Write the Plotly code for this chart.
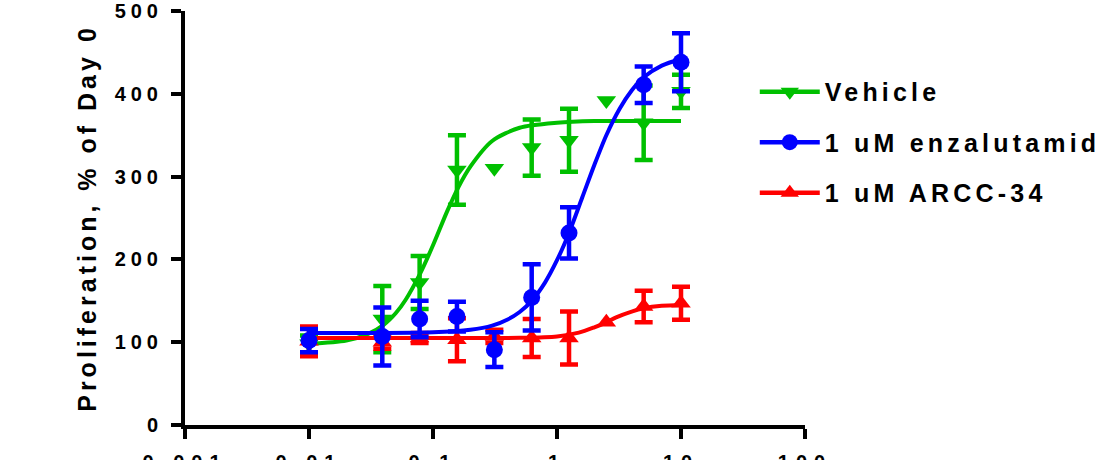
import plotly.graph_objects as go

# ---------------- data ----------------
conc = [0.01, 0.039, 0.078, 0.156, 0.3125, 0.625, 1.25, 2.5, 5, 10]

vehicle_y = [98, 128, 172, 308, 310, 335, 344, 392, 365, 403]
vehicle_err = [10, 40, 32, 42, None, 34, 38, None, 45, 20]

enza_x = [0.01, 0.039, 0.078, 0.156, 0.3125, 0.625, 1.25, 5, 10]
enza_y = [102, 107, 128, 131, 91, 154, 232, 411, 438]
enza_err = [14, 35, 22, 18, 21, 40, 31, 22, 35]

arcc_y = [101, 100, 105, 103, 107, 105, 105, 124, 143, 147]
arcc_err = [18, 8, 6, 26, 8, 23, 32, None, 19, 20]

# fitted curves
veh_fit_x = [0.01, 0.02, 0.03, 0.04, 0.05, 0.06, 0.08, 0.1, 0.13, 0.16, 0.2, 0.3, 0.5, 1, 2, 5, 10]
veh_fit_y = [98, 102, 110, 121, 135, 151, 185, 217, 258, 287, 312, 343, 359, 365, 367, 367, 367]

enza_fit_x = [0.01, 0.1, 0.2, 0.3, 0.4, 0.5, 0.625, 0.8, 1.0, 1.25, 1.6, 2, 2.5, 3.2, 4, 5, 7, 10]
enza_fit_y = [111, 112, 115, 120, 127.5, 136.5, 150, 172, 199, 232, 275, 314, 350, 382, 404, 420, 434, 442]

arcc_fit_x = [0.01, 0.1, 0.5, 1.0, 1.5, 2, 2.5, 3, 4, 5, 7, 10]
arcc_fit_y = [105, 105, 105.3, 107, 111.5, 118, 124, 130, 137, 141, 144, 145]

x_ticks = [0.001, 0.01, 0.1, 1, 10, 100]
x_ticklabels = ["0.001", "0.01", "0.1", "1", "10", "100"]
y_ticks = [0, 100, 200, 300, 400, 500]
y_ticklabels = ["0", "100", "200", "300", "400", "500"]

names = ["Vehicle", "1 uM enzalutamide", "1 uM ARCC-34"]
GREEN, BLUE, RED = "#00c000", "#0000ff", "#ff0000"

FONT = "Liberation Sans, Arial, sans-serif"
MSIZE = 17


def sp(t, px):
    return f'<span style="letter-spacing:{px}px">{t}</span>'


fig = go.Figure()


def add_series(name, color, symbol, fx, fy, px, py, perr, rank):
    fig.add_trace(go.Scatter(
        x=fx, y=fy, mode="lines",
        line=dict(color=color, width=4, shape="spline", smoothing=0.8),
        showlegend=False, hoverinfo="skip"))
    # points with error bars
    ex = [x for x, e in zip(px, perr) if e is not None]
    ey = [y for y, e in zip(py, perr) if e is not None]
    ee = [e for e in perr if e is not None]
    fig.add_trace(go.Scatter(
        x=ex, y=ey, mode="markers",
        marker=dict(color=color, size=MSIZE, symbol=symbol, line=dict(width=0)),
        error_y=dict(type="data", array=ee, visible=True,
                     color=color, thickness=4.5, width=9),
        showlegend=False))
    # points without visible error bars
    nx = [x for x, e in zip(px, perr) if e is None]
    ny = [y for y, e in zip(py, perr) if e is None]
    if nx:
        fig.add_trace(go.Scatter(
            x=nx, y=ny, mode="markers",
            marker=dict(color=color, size=MSIZE, symbol=symbol, line=dict(width=0)),
            showlegend=False))
    # legend entry
    fig.add_trace(go.Scatter(
        x=[None], y=[None], mode="lines+markers", name=sp(name, 4.2),
        line=dict(color=color, width=4.5), legendrank=rank, legendgroup=str(rank),
        marker=dict(color=color, size=MSIZE, symbol=symbol, line=dict(width=0))))


add_series(names[0], GREEN, "triangle-down", veh_fit_x, veh_fit_y, conc, vehicle_y, vehicle_err, 1)
add_series(names[2], RED, "triangle-up", arcc_fit_x, arcc_fit_y, conc, arcc_y, arcc_err, 3)
add_series(names[1], BLUE, "circle", enza_fit_x, enza_fit_y, enza_x, enza_y, enza_err, 2)

fig.update_layout(
    width=1097, height=460,
    margin=dict(l=185, r=292, t=11, b=35, autoexpand=False),
    paper_bgcolor="white", plot_bgcolor="white",
    font=dict(family=FONT, color="black"),
    legend=dict(
        x=0.919, xanchor="left", y=0.86, yanchor="top",
        font=dict(family=FONT, size=25, color="black", weight="bold"),
        traceorder="grouped", tracegroupgap=15, itemwidth=60,
        bgcolor="rgba(0,0,0,0)"),
    xaxis=dict(
        type="log", range=[-3, 2], showgrid=False, zeroline=False,
        showline=True, linecolor="black", linewidth=4,
        ticks="outside", ticklen=10, tickwidth=4, tickcolor="black",
        tickvals=x_ticks, ticktext=[sp(t, 7) for t in x_ticklabels],
        tickfont=dict(family=FONT, size=20, weight="bold"),
        ticklabelstandoff=6),
    yaxis=dict(
        range=[0, 500], showgrid=False, zeroline=False,
        showline=True, linecolor="black", linewidth=4,
        ticks="outside", ticklen=10, tickwidth=4, tickcolor="black",
        tickvals=y_ticks, ticktext=[sp(t, 5) for t in y_ticklabels],
        tickfont=dict(family=FONT, size=20, weight="bold"),
        ticklabelstandoff=4,
        title=dict(text=sp("Proliferation, % of Day 0", 4),
                   font=dict(family=FONT, size=25, weight="bold"), standoff=12)),
)

fig.write_html("out.html")
